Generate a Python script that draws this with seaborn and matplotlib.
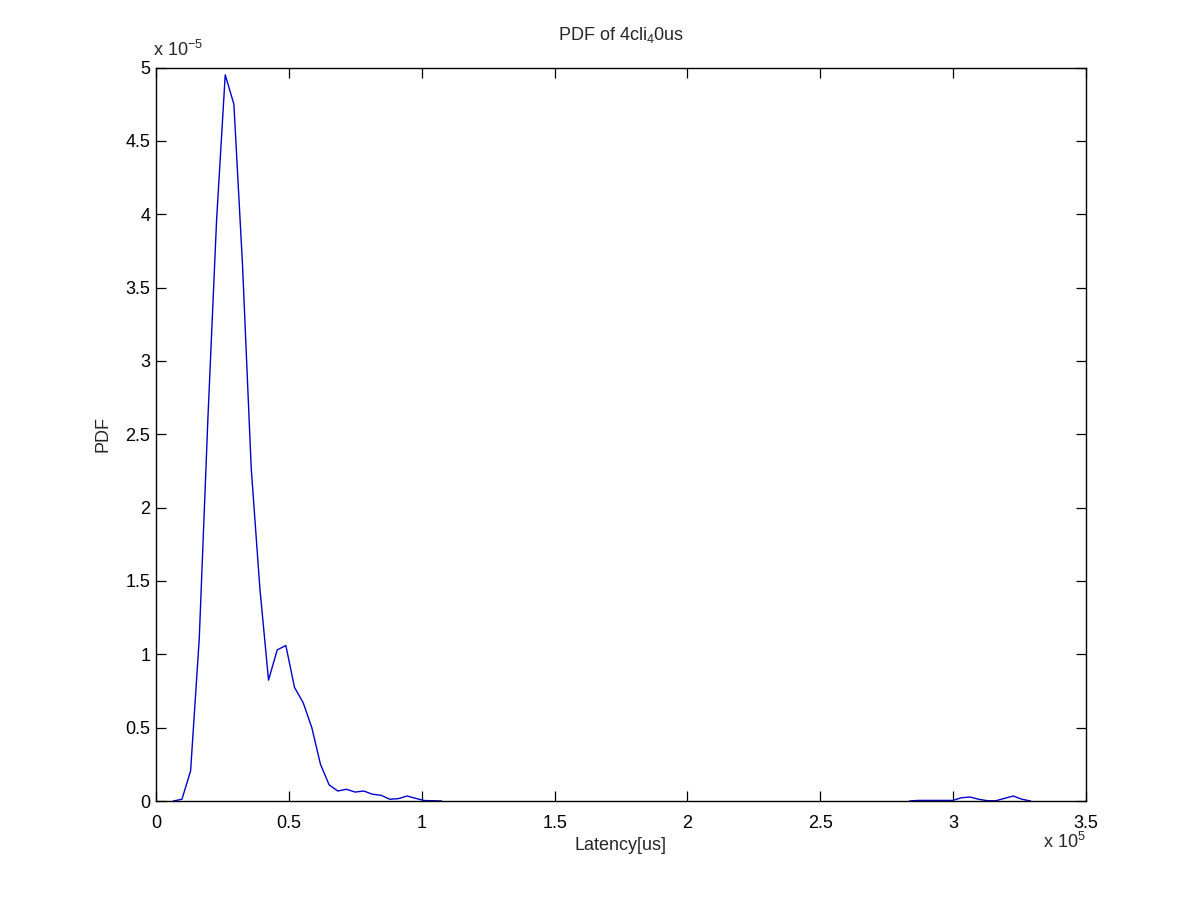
import numpy as np
import pandas as pd
import matplotlib
matplotlib.use("Agg")
import matplotlib.pyplot as plt
import matplotlib.ticker as mticker
import seaborn as sns

# bin centres of the latency histogram (us) and the estimated pdf there
# main cluster
latency_main = [6500, 9760, 13020, 16280, 19540, 22800, 26050, 29310, 32570, 35830,
                39090, 42350, 45610, 48870, 52130, 55390, 58640, 61900, 65160, 68420,
                71680, 74940, 78200, 81460, 84720, 87980, 91230, 94490, 97750, 101010,
                104270, 107530]
pdf_main_e5 = [0.0, 0.012, 0.205, 1.107, 2.61, 3.96, 4.95, 4.75, 3.65, 2.27,
               1.45, 0.824, 1.03, 1.06, 0.774, 0.67, 0.50, 0.25, 0.11, 0.068,
               0.08, 0.061, 0.068, 0.046, 0.039, 0.012, 0.016, 0.034, 0.018, 0.003,
               0.002, 0.0]
# small cluster of outliers near 3e5
latency_tail = [283520, 286770, 290030, 293290, 296550, 299810, 303070, 306330, 309590,
                312850, 316110, 319360, 322620, 325880, 329140]
pdf_tail_e5 = [0.0, 0.004, 0.004, 0.004, 0.004, 0.004, 0.022, 0.027, 0.012,
               0.002, 0.002, 0.018, 0.034, 0.012, 0.0]

x_ticks = [0, 0.5e5, 1e5, 1.5e5, 2e5, 2.5e5, 3e5, 3.5e5]
y_ticks = [0, 0.5e-5, 1e-5, 1.5e-5, 2e-5, 2.5e-5, 3e-5, 3.5e-5, 4e-5, 4.5e-5, 5e-5]

df = pd.DataFrame({
    'latency': latency_main + latency_tail,
    'pdf': [v * 1e-5 for v in pdf_main_e5 + pdf_tail_e5],
    'seg': ['main'] * len(latency_main) + ['tail'] * len(latency_tail),
})

sns.set_style("ticks")
plt.rcParams['font.family'] = ['Liberation Sans', 'DejaVu Sans']
plt.rcParams['mathtext.fontset'] = 'custom'
plt.rcParams['mathtext.rm'] = 'Liberation Sans'
plt.rcParams['mathtext.it'] = 'Liberation Sans'
plt.rcParams['axes.unicode_minus'] = False

fs = 13

fig = plt.figure(figsize=(12, 9), dpi=100, facecolor='white')
ax = fig.add_axes([0.13, 0.11, 0.775, 0.815])

sns.lineplot(data=df, x='latency', y='pdf', units='seg', ax=ax, color=(0, 0, 0.8),
             linewidth=1.0, estimator=None, sort=False, zorder=2)

ax.set_xlim(0, 3.5e5)
ax.set_ylim(0, 5e-5)
ax.set_xticks(x_ticks)
ax.set_yticks(y_ticks)
ax.xaxis.set_major_formatter(mticker.FuncFormatter(lambda v, p: '%g' % round(v / 1e5, 3)))
ax.yaxis.set_major_formatter(mticker.FuncFormatter(lambda v, p: '%g' % round(v / 1e-5, 3)))
ax.tick_params(direction='in', length=7, width=0.9, top=True, right=True,
               labelsize=fs, colors='black')
ax.tick_params(axis='x', pad=10)
ax.tick_params(axis='y', pad=4)
for s in ax.spines.values():
    s.set_visible(True)
    s.set_linewidth(1.0)
    s.set_color('black')
    s.set_zorder(3)

ax.text(-0.003, 1.01, 'x 10$^{-5}$', transform=ax.transAxes, ha='left', va='bottom',
        fontsize=fs)
ax.text(1.0, -0.042, 'x 10$^{5}$', transform=ax.transAxes, ha='right', va='top',
        fontsize=fs)

ax.set_title(r'PDF of 4cli$_4$0us', fontsize=fs, pad=20)
ax.set_xlabel('Latency[us]', fontsize=fs, labelpad=4)
ax.set_ylabel('PDF', fontsize=fs, labelpad=10)

plt.savefig('out.png', dpi=100, facecolor='white')
